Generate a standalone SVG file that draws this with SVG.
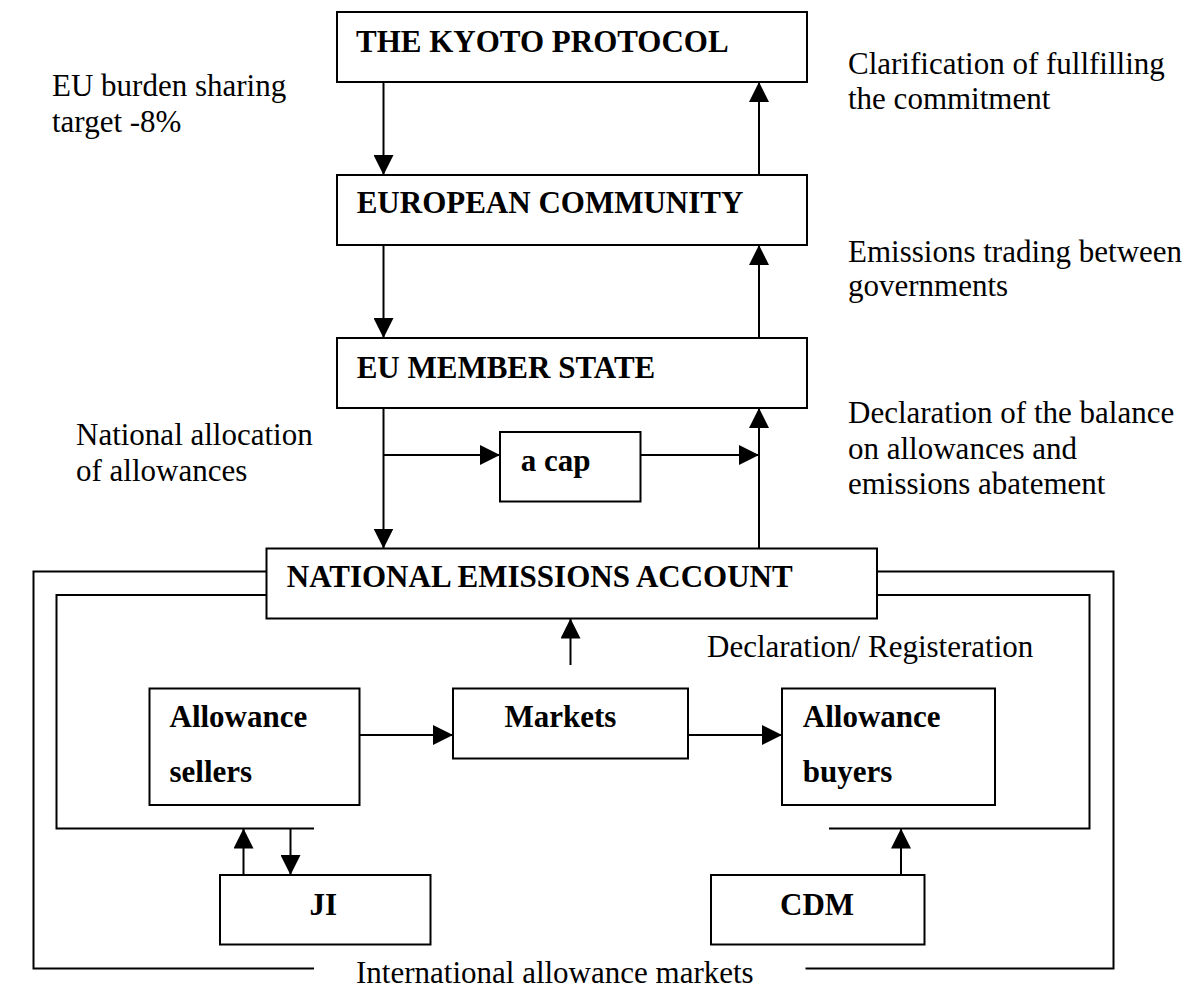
<svg xmlns="http://www.w3.org/2000/svg" width="1193" height="989" viewBox="0 0 1193 989">
<defs>
<style>
.box{fill:#fff;stroke:#000;stroke-width:2}
.ln{fill:none;stroke:#000;stroke-width:2}
.b{font-family:"Liberation Serif","Times New Roman",serif;font-size:31px;font-weight:bold;fill:#000}
.t{font-family:"Liberation Serif","Times New Roman",serif;font-size:31px;fill:#000}
</style>
<marker id="ah" markerUnits="userSpaceOnUse" markerWidth="20" markerHeight="20" refX="20" refY="10" orient="auto" viewBox="0 0 20 20">
<path d="M0,0 L20,10 L0,20 Z" fill="#000"/>
</marker>
</defs>
<rect width="1193" height="989" fill="#fff"/>
<g id="connectors">
<line class="ln" x1="383.5" y1="82" x2="383.5" y2="175" marker-end="url(#ah)"/>
<line class="ln" x1="759" y1="175" x2="759" y2="82" marker-end="url(#ah)"/>
<line class="ln" x1="383.5" y1="245" x2="383.5" y2="338" marker-end="url(#ah)"/>
<line class="ln" x1="759" y1="338" x2="759" y2="245" marker-end="url(#ah)"/>
<line class="ln" x1="383.5" y1="408" x2="383.5" y2="548.5" marker-end="url(#ah)"/>
<line class="ln" x1="383.5" y1="455" x2="500" y2="455" marker-end="url(#ah)"/>
<line class="ln" x1="640" y1="455" x2="759" y2="455" marker-end="url(#ah)"/>
<line class="ln" x1="759" y1="548.5" x2="759" y2="408" marker-end="url(#ah)"/>
<line class="ln" x1="570.5" y1="665" x2="570.5" y2="618.5" marker-end="url(#ah)"/>
<line class="ln" x1="359.5" y1="735" x2="453" y2="735" marker-end="url(#ah)"/>
<line class="ln" x1="688" y1="735" x2="782" y2="735" marker-end="url(#ah)"/>
<path class="ln" d="M267,595 H56.5 V828.5 H314"/>
<path class="ln" d="M267,571.5 H33.5 V968.5 H314"/>
<path class="ln" d="M877,595 H1089.5 V828.5 H829"/>
<path class="ln" d="M877,571.5 H1113.5 V968.5 H805.5"/>
<line class="ln" x1="243.5" y1="875" x2="243.5" y2="828.5" marker-end="url(#ah)"/>
<line class="ln" x1="290.5" y1="828.5" x2="290.5" y2="875" marker-end="url(#ah)"/>
<line class="ln" x1="901" y1="875" x2="901" y2="828.5" marker-end="url(#ah)"/>
</g>
<g id="kyoto"><rect class="box" x="337" y="12" width="470" height="70"/><text class="b" x="356" y="51.7">THE KYOTO PROTOCOL</text></g>
<g id="ec"><rect class="box" x="337" y="175" width="470" height="70"/><text class="b" x="356.7" y="213">EUROPEAN COMMUNITY</text></g>
<g id="ms"><rect class="box" x="337" y="338" width="470" height="70"/><text class="b" x="356.7" y="378.3">EU MEMBER STATE</text></g>
<g id="cap"><rect class="box" x="500" y="432" width="140.5" height="69.5"/><text class="b" x="520.7" y="471">a cap</text></g>
<g id="nea"><rect class="box" x="266.5" y="548.5" width="610.5" height="70"/><text class="b" x="286.8" y="586.7">NATIONAL EMISSIONS ACCOUNT</text></g>
<g id="sellers"><rect class="box" x="149.5" y="688.5" width="210" height="116.5"/><text class="b" x="169.5" y="726.7">Allowance</text><text class="b" x="169.5" y="781.7">sellers</text></g>
<g id="markets"><rect class="box" x="453" y="688.5" width="235" height="70"/><text class="b" x="504.4" y="726.7">Markets</text></g>
<g id="buyers"><rect class="box" x="782" y="688.5" width="213" height="116.5"/><text class="b" x="802.8" y="726.7">Allowance</text><text class="b" x="802.8" y="781.7">buyers</text></g>
<g id="ji"><rect class="box" x="220" y="875" width="210.5" height="69.5"/><text class="b" x="309.6" y="915">JI</text></g>
<g id="cdm"><rect class="box" x="711" y="875" width="213.5" height="69.5"/><text class="b" x="780" y="915">CDM</text></g>
<g id="labels">
<text class="t" x="52" y="96">EU burden sharing</text>
<text class="t" x="52" y="131.7">target -8%</text>
<text class="t" x="848" y="74">Clarification of fullfilling</text>
<text class="t" x="848" y="109">the commitment</text>
<text class="t" x="848" y="262">Emissions trading between</text>
<text class="t" x="848" y="296">governments</text>
<text class="t" x="76" y="445">National allocation</text>
<text class="t" x="76" y="481">of allowances</text>
<text class="t" x="848" y="423">Declaration of the balance</text>
<text class="t" x="848" y="459">on allowances and</text>
<text class="t" x="848" y="494.3">emissions abatement</text>
<text class="t" x="707" y="656.7">Declaration/ Registeration</text>
<text class="t" x="356" y="983">International allowance markets</text>
</g>
</svg>
